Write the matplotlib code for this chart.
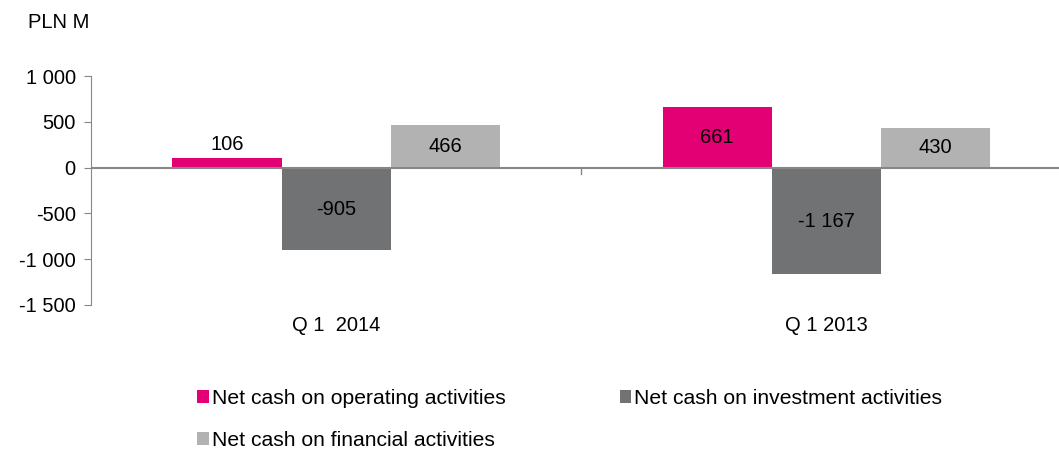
import matplotlib
matplotlib.use("Agg")
import matplotlib.pyplot as plt
from matplotlib.patches import Patch
import numpy as np

plt.rcParams['font.family'] = ['Liberation Sans', 'DejaVu Sans']

categories = ["Q 1  2014", "Q 1 2013"]
series_names = ["Net cash on operating activities",
                "Net cash on investment activities",
                "Net cash on financial activities"]
operating = [106, 661]
investment = [-905, -1167]
financial = [466, 430]
value_labels = [["106", "661"], ["-905", "-1 167"], ["466", "430"]]
colors = ["#E20074", "#717274", "#B2B2B2"]
yticks = [1000, 500, 0, -500, -1000, -1500]
ytick_labels = ["1 000", "500", "0", "-500", "-1 000", "-1 500"]

FS = 14.5
W, H = 1059, 450
fig = plt.figure(figsize=(W / 100, H / 100), dpi=100)
left_px, right_px, top_px, bot_px = 91, 1059, 76, 305
ax = fig.add_axes([left_px / W, 1 - bot_px / H, (right_px - left_px) / W, (bot_px - top_px) / H])

cat_w_px = 490.0
x = np.arange(len(categories))
bw = 109.0 / cat_w_px
offsets = [-bw, 0, bw]
all_series = [operating, investment, financial]
for i, (vals, col) in enumerate(zip(all_series, colors)):
    bars = ax.bar(x + offsets[i], vals, width=bw, color=col, edgecolor='none', zorder=2)
    for j, (b, v) in enumerate(zip(bars, vals)):
        cx = b.get_x() + b.get_width() / 2
        if abs(v) < 200:
            ax.annotate(value_labels[i][j], (cx, v), xytext=(0, 3), textcoords='offset points',
                        ha='center', va='bottom', fontsize=FS, color='#000000')
        else:
            ax.text(cx, v / 2, value_labels[i][j], ha='center', va='center',
                    fontsize=FS, color='#000000')

ax.set_ylim(-1500, 1000)
ax.set_xlim(-0.5, 1.5 - (1071 - right_px) / cat_w_px)
ax.set_yticks(yticks)
ax.set_yticklabels(ytick_labels, fontsize=FS)
ax.set_xticks(x)
ax.set_xticklabels(categories, fontsize=FS)
ax.tick_params(axis='x', length=0, pad=8)
ax.tick_params(axis='y', length=5, color='#878787', pad=6, direction='out')
ax.plot([0.5, 0.5], [0, -70], color='#878787', lw=1, zorder=3, clip_on=False)

for s in ['top', 'right', 'bottom']:
    ax.spines[s].set_visible(False)
ax.spines['left'].set_color('#878787')
ax.axhline(0, color='#878787', lw=1.5, zorder=3)

fig.text(28 / W, 1 - 22 / H, "PLN M", fontsize=FS, ha='left', va='center')

handles = [Patch(facecolor=c, edgecolor='none') for c in colors]
order = [0, 2, 1]
leg = fig.legend([handles[k] for k in order], [series_names[k] for k in order],
                 loc='upper left', bbox_to_anchor=(178 / W, 1 - 370 / H),
                 ncol=2, frameon=False, fontsize=15.2, handlelength=0.55, handleheight=0.55,
                 handletextpad=0.15, columnspacing=5.4, labelspacing=1.1)

fig.savefig("out.png", dpi=100)
